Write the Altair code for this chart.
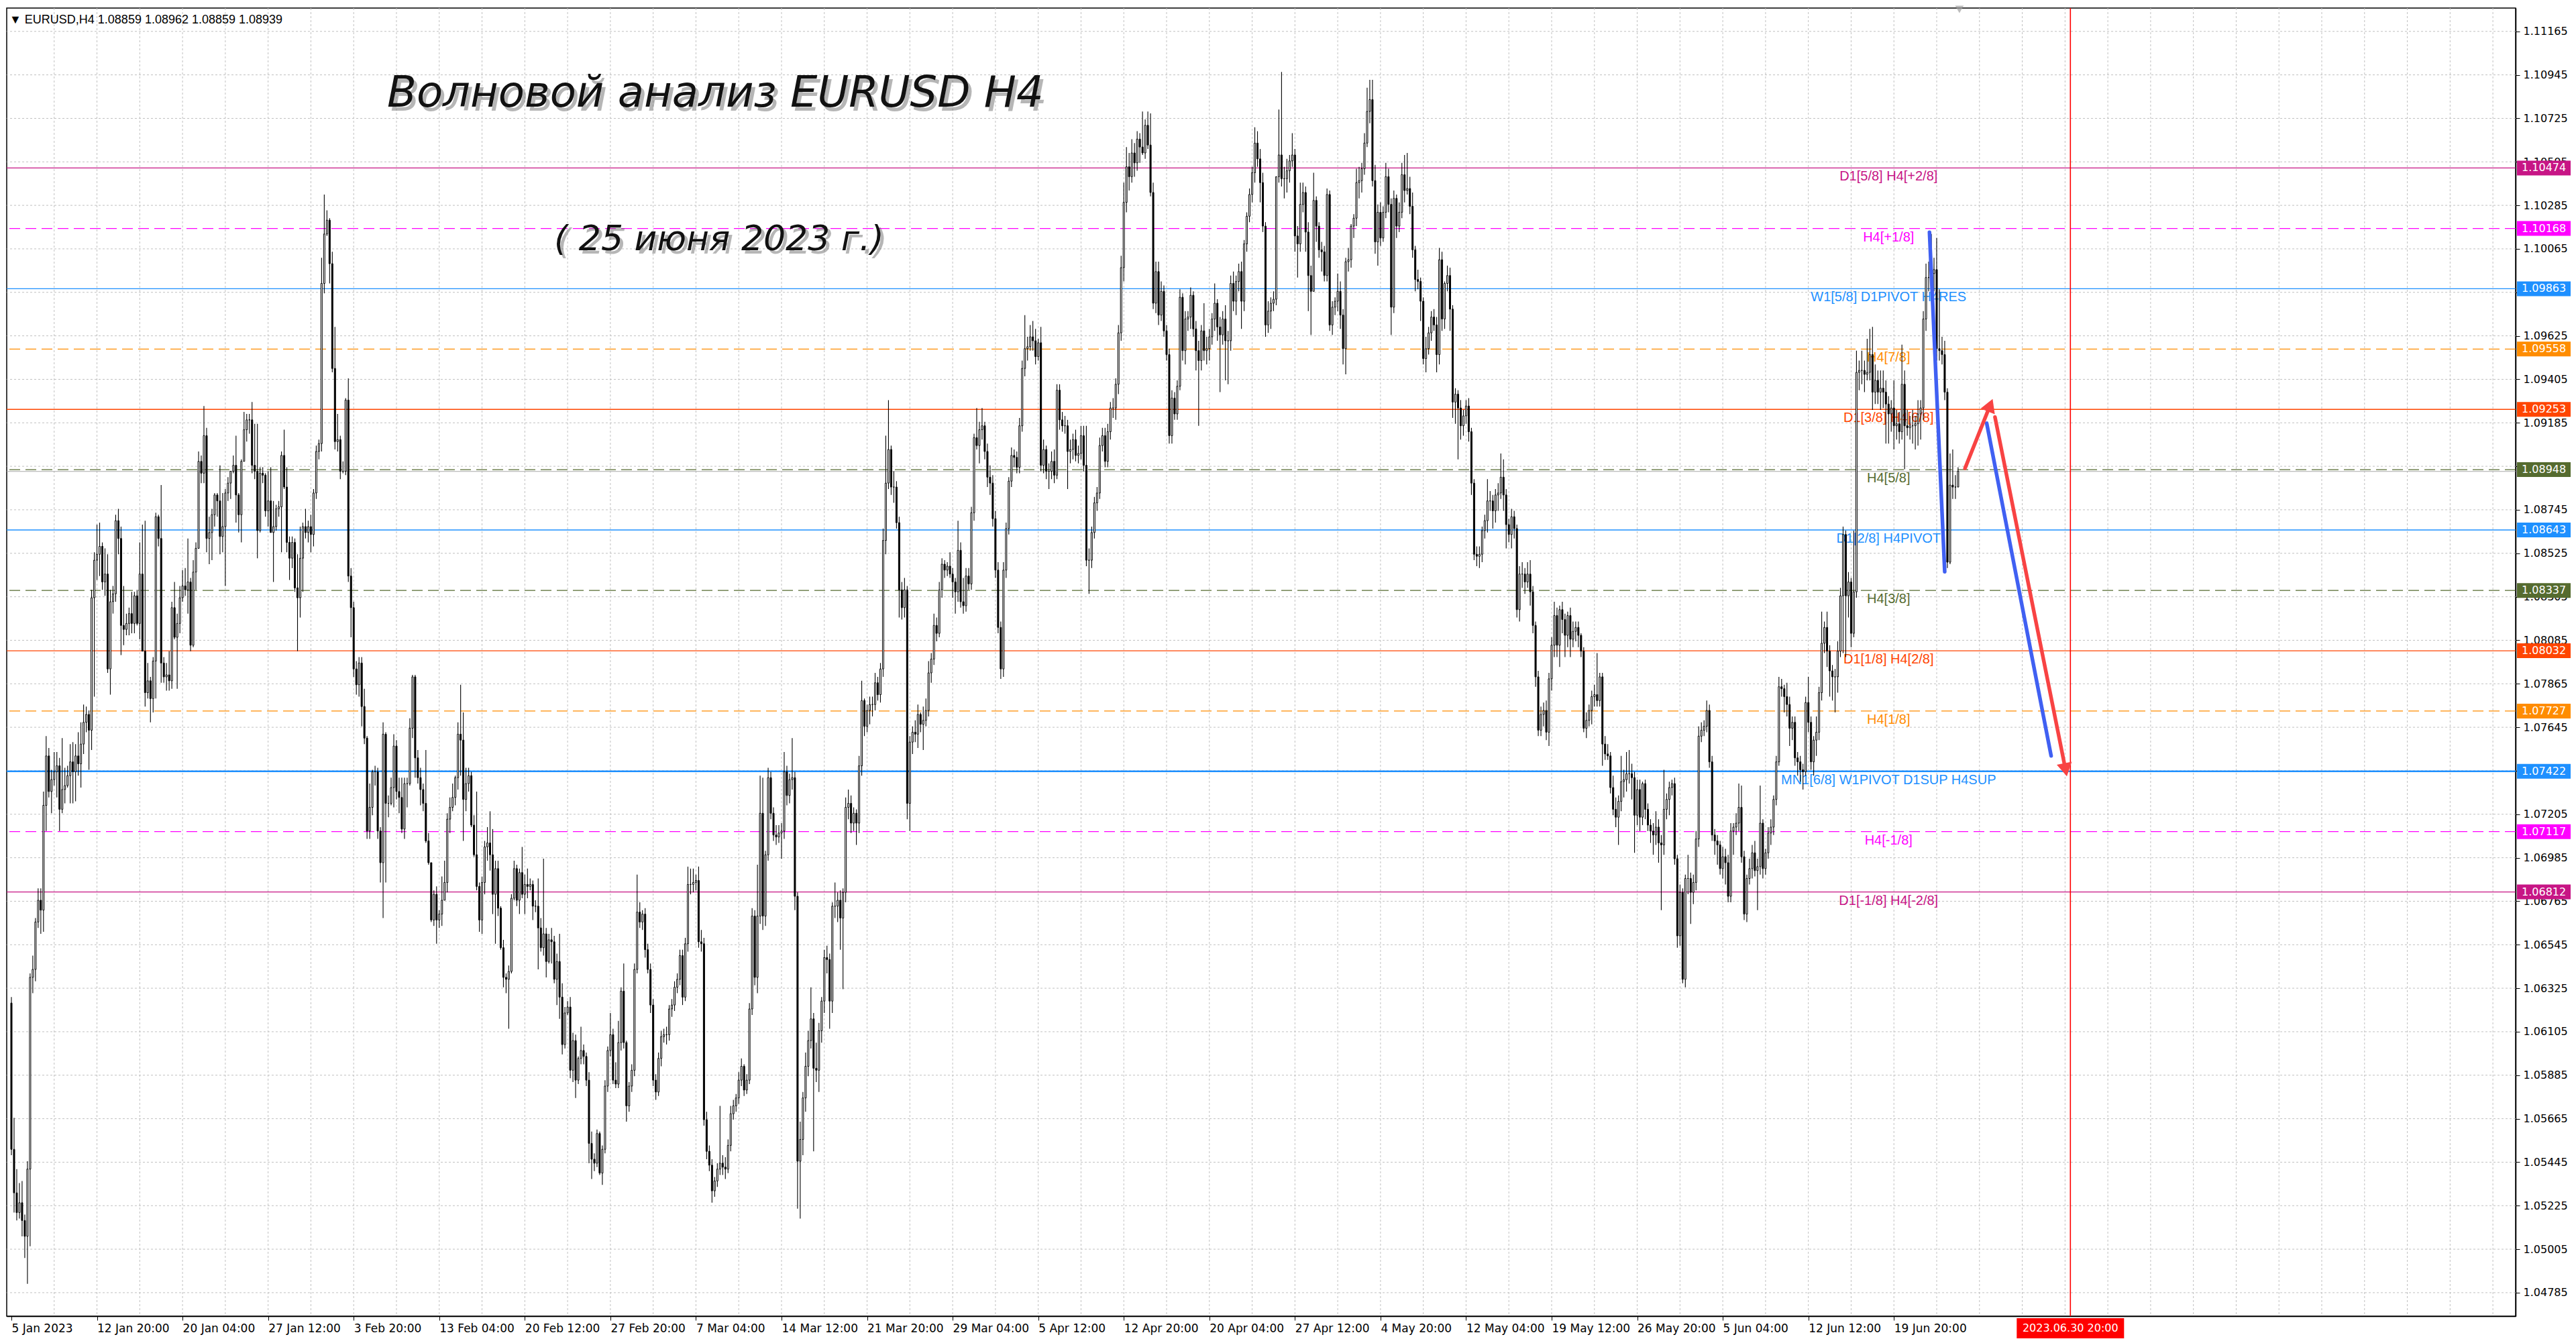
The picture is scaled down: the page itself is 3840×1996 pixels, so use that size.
import json
import math
import altair as alt
import pandas as pd

# ---------------- data (prices in pips above 1.0000; bar = (high, low, close); open = previous close)
FIRST_OPEN = 625
bars_jan = [
    (628, 548, 551), (567, 519, 529), (541, 515, 519), (534, 516, 524), (535, 507, 515), (518, 496, 507),
    (545, 483, 541), (640, 502, 638), (649, 630, 642), (668, 636, 666), (683, 663, 677), (683, 660, 672),
    (732, 661, 725), (760, 712, 750), (754, 729, 732), (743, 721, 738), (752, 735, 742), (752, 729, 745),
    (749, 712, 723), (759, 721, 733), (744, 726, 735), (745, 734, 740), (756, 726, 747), (757, 726, 742),
    (756, 727, 750), (762, 740, 746), (767, 734, 756), (776, 751, 767), (775, 762, 771), (773, 743, 763),
    (834, 753, 830), (853, 780, 849), (867, 839, 852), (868, 841, 856), (858, 834, 838), (855, 831, 842),
    (852, 792, 794), (834, 781, 828), (836, 822, 832), (872, 828, 869), (875, 852, 860), (866, 801, 816),
    (836, 806, 814), (822, 811, 817), (825, 811, 822), (833, 812, 817), (833, 812, 831), (834, 816, 817),
    (858, 809, 842), (867, 803, 803), (869, 775, 782), (797, 779, 788), (790, 767, 779), (800, 772, 798),
    (873, 779, 871), (872, 856, 860), (887, 787, 797), (800, 787, 790), (797, 783, 791), (803, 783, 788),
    (828, 784, 825), (838, 809, 810), (822, 784, 817), (836, 812, 830), (844, 828, 836), (845, 831, 834),
    (860, 822, 838), (840, 803, 806), (849, 805, 843), (858, 834, 855), (904, 860, 899), (902, 888, 893),
    (927, 888, 912), (916, 853, 860), (871, 847, 863), (875, 849, 872), (883, 866, 882), (883, 871, 879),
    (897, 852, 861), (883, 853, 866), (885, 836, 883), (891, 879, 888), (894, 880, 894), (902, 893, 897),
    (912, 868, 882), (883, 863, 872), (900, 858, 899), (924, 899, 915), (923, 909, 920), (923, 913, 920),
    (929, 893, 897), (918, 890, 894), (918, 850, 864), (896, 863, 893), (896, 888, 892), (893, 871, 874),
    (894, 866, 879), (896, 863, 863), (879, 838, 866), (877, 864, 875), (879, 871, 876), (904, 853, 902),
    (915, 885, 886), (896, 853, 858), (861, 839, 850), (861, 845, 858), (860, 833, 835), (852, 803, 830),
    (866, 820, 850), (868, 833, 866), (875, 860, 863),
]
bars_feb = [
    (869, 858, 866), (872, 853, 862), (885, 856, 883), (907, 880, 904), (910, 900, 908), (1002, 904, 989),
    (1034, 984, 1014), (1026, 1013, 1021), (1022, 989, 999), (1005, 944, 946), (967, 905, 909), (923, 904, 910),
    (912, 890, 894), (899, 893, 894), (931, 892, 930), (941, 838, 841), (845, 810, 825), (828, 790, 794),
    (798, 781, 786), (800, 780, 797), (800, 765, 775), (784, 756, 759), (760, 708, 712), (736, 708, 724),
    (743, 720, 742), (745, 735, 742), (744, 708, 712), (714, 686, 696), (767, 668, 761), (762, 686, 726),
    (730, 719, 726), (739, 725, 734), (761, 724, 755), (758, 728, 732), (739, 721, 729), (739, 711, 713),
    (739, 708, 736), (739, 724, 736), (769, 735, 764), (791, 759, 790), (791, 739, 749), (753, 736, 739),
    (744, 725, 733), (736, 722, 726), (753, 706, 707), (711, 695, 696), (696, 666, 667), (682, 664, 680),
    (684, 655, 667), (672, 663, 670), (689, 664, 677), (697, 677, 686), (721, 681, 718), (729, 711, 724),
    (736, 722, 729), (740, 725, 739), (767, 733, 761), (786, 740, 758), (772, 707, 728), (744, 722, 736),
    (744, 732, 740), (742, 714, 715), (720, 699, 700), (732, 682, 684), (686, 661, 667), (689, 660, 686),
    (707, 680, 704), (714, 697, 706), (722, 692, 700), (713, 670, 680), (697, 655, 693), (697, 669, 673),
    (674, 652, 653), (657, 633, 638), (640, 630, 637), (644, 612, 641), (680, 640, 678), (697, 677, 693),
    (695, 674, 677), (693, 670, 691), (704, 678, 680), (690, 670, 685), (693, 678, 684), (688, 682, 685),
    (687, 667, 674), (677, 671, 674), (688, 642, 663), (668, 651, 653), (698, 649, 660), (663, 638, 646),
    (660, 645, 657), (663, 645, 656), (659, 635, 637), (650, 624, 646), (660, 617, 628), (635, 599, 604),
    (623, 602, 620), (626, 619, 623), (628, 587, 591), (610, 585, 606), (609, 577, 586), (598, 584, 597),
    (613, 594, 601), (604, 594, 598), (600, 583, 586), (590, 544, 554), (560, 536, 546), (549, 540, 544),
    (561, 542, 559), (560, 538, 539), (553, 533, 551), (586, 549, 583), (603, 580, 601), (620, 598, 609),
    (612, 584, 586), (595, 582, 584), (616, 582, 605), (633, 601, 631), (645, 602, 605), (606, 565, 573),
]
bars_mar = [
    (585, 570, 583), (594, 580, 591), (645, 588, 642), (690, 640, 671), (676, 663, 666), (672, 662, 670),
    (673, 648, 652), (655, 640, 642), (645, 620, 624), (627, 583, 586), (589, 576, 580), (600, 578, 597),
    (611, 593, 608), (612, 605, 609), (613, 604, 609), (624, 606, 622), (627, 618, 624), (636, 621, 633),
    (640, 630, 637), (652, 634, 649), (652, 624, 628), (658, 626, 655), (694, 651, 685), (693, 680, 685),
    (693, 681, 686), (690, 682, 687), (694, 653, 656), (662, 651, 655), (658, 563, 566), (570, 546, 550),
    (553, 540, 543), (546, 524, 530), (537, 527, 535), (544, 532, 541), (573, 538, 544), (548, 538, 542),
    (547, 536, 541), (556, 539, 553), (573, 550, 569), (576, 566, 573), (579, 570, 577), (590, 574, 586),
    (597, 583, 593), (594, 578, 581), (589, 579, 586), (625, 584, 622), (673, 619, 669), (672, 634, 638),
    (695, 630, 669), (740, 665, 721), (739, 662, 669), (702, 664, 700), (744, 697, 739), (742, 718, 721),
    (724, 707, 710), (715, 705, 709), (715, 706, 711), (716, 698, 712), (752, 708, 742), (745, 725, 730),
    (741, 726, 738), (759, 733, 739), (742, 672, 679), (681, 521, 545), (565, 516, 556), (580, 548, 577),
    (600, 570, 593), (611, 588, 606), (633, 602, 617), (620, 550, 592), (605, 585, 591), (615, 580, 611),
    (628, 605, 626), (652, 620, 648), (654, 640, 647), (650, 612, 626), (676, 620, 674), (686, 668, 674),
    (681, 666, 677), (682, 652, 668), (683, 632, 681), (729, 676, 724), (733, 718, 726), (730, 711, 716),
    (724, 712, 721), (723, 705, 716), (750, 711, 745), (788, 740, 778), (779, 760, 765), (776, 762, 773),
    (780, 766, 776), (780, 770, 776), (792, 773, 787), (790, 778, 781), (797, 777, 794), (865, 790, 859),
    (912, 852, 888), (930, 885, 905), (907, 882, 886), (894, 878, 886), (889, 865, 868), (871, 820, 834),
    (838, 819, 825), (840, 820, 834), (836, 718, 726), (760, 712, 757), (765, 751, 762), (768, 757, 761),
    (776, 754, 771), (772, 762, 766), (775, 753, 768), (779, 765, 773), (798, 770, 792), (802, 787, 799),
    (822, 796, 816), (820, 808, 812), (838, 810, 834), (850, 830, 847), (849, 840, 844), (848, 841, 846),
    (853, 840, 842), (845, 830, 838), (840, 822, 833), (869, 828, 854), (858, 825, 828), (840, 822, 826),
    (845, 823, 841), (845, 834, 837), (876, 834, 873), (913, 869, 911), (926, 905, 907), (919, 898, 915),
    (926, 910, 917), (919, 900, 904), (908, 886, 891), (897, 882, 888), (892, 866, 870), (874, 840, 844),
]
bars_apr = [
    (848, 812, 815), (818, 789, 794), (848, 790, 844), (868, 840, 865), (891, 862, 889), (906, 886, 902),
    (905, 896, 901), (904, 893, 896), (921, 893, 917), (950, 914, 946), (973, 942, 956), (962, 950, 957),
    (968, 955, 962), (970, 955, 960), (966, 948, 952), (961, 950, 959), (967, 894, 897), (910, 893, 905),
    (907, 890, 894), (898, 885, 894), (904, 890, 899), (905, 888, 892), (938, 890, 935), (938, 915, 920),
    (924, 914, 917), (922, 913, 917), (920, 885, 904), (910, 898, 905), (913, 900, 910), (915, 899, 902),
    (907, 898, 903), (917, 900, 912), (917, 894, 897), (917, 846, 849), (855, 832, 849), (866, 845, 863),
    (881, 860, 878), (886, 874, 883), (911, 880, 907), (916, 904, 912), (916, 896, 899), (918, 896, 914),
    (929, 910, 926), (931, 921, 926), (941, 920, 938), (968, 933, 964), (1003, 960, 997), (1040, 990, 1030),
    (1058, 1025, 1048), (1055, 1036, 1043), (1062, 1040, 1055), (1060, 1043, 1050), (1066, 1046, 1062), (1065, 1050, 1058),
    (1076, 1054, 1055), (1072, 1052, 1069), (1076, 1057, 1059), (1075, 1033, 1035), (1040, 976, 979), (1000, 974, 995),
    (1000, 968, 973), (990, 970, 985), (988, 962, 965), (968, 950, 953), (956, 908, 912), (935, 908, 931),
    (934, 920, 923), (940, 920, 937), (986, 935, 982), (984, 950, 955), (975, 948, 971), (975, 965, 972),
    (987, 966, 983), (985, 962, 966), (970, 945, 955), (960, 917, 950), (968, 945, 965), (979, 950, 955),
    (962, 948, 956), (966, 950, 962), (974, 958, 971), (989, 965, 979), (981, 960, 967), (972, 934, 963),
    (975, 958, 971), (978, 940, 960), (965, 938, 960), (993, 955, 989), (995, 975, 980), (993, 973, 990),
    (999, 985, 995), (1000, 966, 980), (1011, 975, 1009), (1025, 1005, 1023), (1037, 1020, 1034), (1048, 1030, 1045),
    (1068, 1040, 1060), (1066, 1048, 1052), (1057, 1030, 1040), (1045, 1015, 1018), (1020, 962, 968), (980, 964, 975),
    (982, 966, 979), (985, 975, 981), (1043, 978, 1043), (1077, 1040, 1054), (1096, 1038, 1042), (1048, 1032, 1042),
    (1052, 1035, 1046), (1054, 1040, 1051), (1065, 1048, 1054), (1057, 1005, 1013), (1018, 992, 1009), (1040, 1005, 1029),
    (1040, 1025, 1035), (1038, 1005, 1015), (1020, 975, 993), (998, 963, 985), (1045, 985, 1031), (1033, 1010, 1018),
]
bars_may = [
    (1020, 1002, 1006), (1010, 995, 1005), (1008, 990, 993), (1037, 990, 1034), (1036, 965, 968), (980, 963, 977),
    (982, 973, 980), (994, 975, 985), (990, 966, 973), (976, 948, 956), (1002, 943, 1000), (1007, 995, 1001),
    (1019, 997, 1018), (1024, 1012, 1022), (1047, 1018, 1040), (1048, 1032, 1041), (1050, 1035, 1047), (1065, 1044, 1060),
    (1088, 1058, 1076), (1092, 1070, 1082), (1092, 1038, 1041), (1049, 1004, 1010), (1029, 998, 1025), (1030, 1008, 1012),
    (1028, 1010, 1025), (1050, 1022, 1043), (1047, 1025, 1029), (1032, 963, 977), (1036, 974, 1032), (1034, 1012, 1018),
    (1030, 1015, 1025), (1050, 1022, 1044), (1054, 1030, 1036), (1055, 1034, 1037), (1043, 1024, 1028), (1035, 1002, 1006),
    (1008, 985, 991), (996, 986, 990), (992, 970, 980), (982, 948, 951), (962, 944, 956), (967, 953, 964),
    (975, 960, 972), (976, 965, 968), (972, 944, 953), (1007, 948, 1001), (1005, 965, 971), (990, 966, 989),
    (998, 985, 993), (997, 965, 976), (978, 921, 929), (936, 918, 933), (935, 900, 926), (930, 910, 917),
    (925, 912, 922), (930, 918, 927), (931, 909, 914), (916, 882, 888), (890, 849, 852), (856, 846, 851),
    (856, 845, 852), (866, 848, 864), (872, 860, 869), (890, 863, 879), (884, 874, 879), (882, 865, 874),
    (885, 868, 882), (888, 874, 883), (903, 880, 891), (900, 874, 882), (885, 855, 867), (870, 858, 862),
    (875, 855, 871), (874, 860, 865), (867, 820, 824), (846, 818, 842), (848, 835, 842), (845, 832, 838),
    (848, 835, 842), (849, 826, 833), (836, 812, 816), (818, 785, 790), (793, 760, 763), (775, 760, 771),
    (777, 765, 773), (778, 758, 762), (792, 755, 789), (810, 783, 806), (828, 800, 821), (825, 800, 806),
    (826, 795, 824), (828, 812, 819), (822, 800, 811), (823, 805, 821), (825, 800, 809), (818, 805, 813),
    (818, 808, 815), (818, 805, 811), (812, 800, 803), (805, 762, 764), (772, 759, 768), (776, 765, 773),
    (783, 766, 780), (786, 775, 781), (802, 775, 778), (792, 775, 790), (792, 745, 756), (760, 748, 751),
    (756, 748, 750), (752, 731, 734), (740, 720, 723), (729, 714, 719), (730, 705, 727), (750, 722, 737),
    (743, 729, 738), (752, 732, 741), (753, 736, 741), (746, 728, 739), (742, 701, 720), (738, 715, 733),
    (738, 712, 719), (737, 715, 736), (738, 718, 723), (726, 712, 715), (718, 706, 712), (716, 700, 710),
    (722, 705, 714), (718, 696, 706), (710, 672, 705), (743, 700, 723), (731, 718, 728), (737, 720, 734),
    (738, 730, 736), (739, 695, 698), (700, 653, 659), (685, 654, 681), (683, 635, 637), (690, 633, 688),
]
bars_jun = [
    (700, 680, 688), (691, 665, 681), (690, 675, 686), (712, 682, 708), (765, 704, 760), (767, 757, 763),
    (768, 760, 765), (778, 762, 773), (776, 744, 747), (750, 707, 710), (713, 700, 707), (710, 695, 705),
    (707, 690, 693), (704, 688, 699), (703, 685, 696), (700, 676, 679), (716, 676, 712), (716, 700, 714),
    (721, 710, 716), (736, 712, 724), (735, 696, 699), (702, 667, 670), (690, 666, 688), (698, 685, 693),
    (705, 688, 701), (707, 689, 692), (698, 672, 694), (735, 690, 716), (718, 688, 693), (703, 690, 701),
    (714, 698, 711), (718, 705, 714), (730, 710, 728), (750, 725, 747), (790, 745, 785), (789, 780, 784),
    (786, 772, 780), (787, 770, 776), (780, 755, 764), (770, 758, 767), (770, 745, 749), (752, 740, 747),
    (750, 737, 743), (746, 733, 742), (780, 740, 777), (790, 762, 767), (770, 743, 747), (760, 740, 758),
    (770, 750, 762), (785, 758, 782), (823, 778, 807), (818, 802, 815), (823, 795, 803), (806, 780, 793),
    (796, 778, 790), (794, 772, 790), (808, 782, 803), (835, 800, 831), (866, 802, 862), (864, 800, 831),
    (843, 820, 838), (840, 805, 812), (864, 810, 833), (955, 830, 944), (950, 935, 945), (955, 938, 945),
    (950, 934, 943), (961, 940, 944), (966, 940, 953), (967, 925, 934), (948, 928, 940), (945, 928, 934),
    (945, 925, 936), (945, 926, 934), (940, 908, 928), (932, 908, 923), (930, 914, 926), (940, 905, 917),
    (925, 910, 918), (924, 908, 914), (958, 910, 938), (945, 895, 917), (925, 912, 916), (922, 910, 917),
    (925, 908, 917), (922, 905, 918), (930, 907, 923), (930, 910, 926), (975, 920, 971), (999, 965, 992),
    (1000, 985, 992), (1014, 990, 994), (1002, 985, 996), (1012, 950, 956), (986, 950, 955), (962, 948, 953),
    (960, 930, 934), (936, 845, 848), (903, 847, 887), (905, 880, 886), (892, 880, 886), (896, 886, 894),
]

x_labels = ["5 Jan 2023", "12 Jan 20:00", "20 Jan 04:00", "27 Jan 12:00", "3 Feb 20:00", "13 Feb 04:00",
            "20 Feb 12:00", "27 Feb 20:00", "7 Mar 04:00", "14 Mar 12:00", "21 Mar 20:00", "29 Mar 04:00",
            "5 Apr 12:00", "12 Apr 20:00", "20 Apr 04:00", "27 Apr 12:00", "4 May 20:00", "12 May 04:00",
            "19 May 12:00", "26 May 20:00", "5 Jun 04:00", "12 Jun 12:00", "19 Jun 20:00"]
y_ticks = [1.11165, 1.10945, 1.10725, 1.10505, 1.10285, 1.10065, 1.09845, 1.09625, 1.09405, 1.09185,
           1.08965, 1.08745, 1.08525, 1.08305, 1.08085, 1.07865, 1.07645, 1.07425, 1.07205, 1.06985,
           1.06765, 1.06545, 1.06325, 1.06105, 1.05885, 1.05665, 1.05445, 1.05225, 1.05005, 1.04785]

level_prices = [1.10474, 1.10168, 1.09863, 1.09558, 1.09253, 1.08948, 1.08643,
                1.08337, 1.08032, 1.07727, 1.07422, 1.07117, 1.06812]
level_names = ["D1[5/8] H4[+2/8]", "H4[+1/8]", "W1[5/8] D1PIVOT H4RES", "H4[7/8]", "D1[3/8] H4[6/8]",
               "H4[5/8]", "D1[2/8] H4PIVOT", "H4[3/8]", "D1[1/8] H4[2/8]", "H4[1/8]",
               "MN1[6/8] W1PIVOT D1SUP H4SUP", "H4[-1/8]", "D1[-1/8] H4[-2/8]"]
level_colors = ["#C71585", "#FF00FF", "#1E90FF", "#FF8C00", "#FF4500", "#556B2F", "#1E90FF",
                "#556B2F", "#FF4500", "#FF8C00", "#1E90FF", "#FF00FF", "#C71585"]
level_style = ["solid", "dash", "solid", "dash", "solid", "dash", "solid",
               "dash", "solid", "dash", "thick", "dash", "solid"]
level_label_bar = 702

bid_price = 1.08939
future_bar = 770
future_label = "2023.06.30 20:00"

blue_bar = [717.3, 723.0, 738.7, 762.8]
blue_price = [1.10149, 1.08432, 1.09183, 1.07500]
blue_seg = ["a", "a", "b", "b"]
red_bar = [730.6, 740.0, 741.8, 768.2]
red_price = [1.08955, 1.09274, 1.09214, 1.07430]
red_seg = ["a", "a", "b", "b"]

header_text = "▼ EURUSD,H4  1.08859 1.08962 1.08859 1.08939"
title_text = "Волновой анализ EURUSD H4"
subtitle_text = "( 25 июня 2023 г.)"

# ---------------- build tables
W, H = 3740, 1950
XD = [-0.5, 935.25]
YD = [1.04666, 1.11283]
FONT = "Liberation Sans"
AFONT = "DejaVu Sans"

rows = []
prev = FIRST_OPEN
for i, (h, l, c) in enumerate(bars_jan + bars_feb + bars_mar + bars_apr + bars_may + bars_jun):
    o = prev
    rows.append({"i": i, "o": 1 + o / 1e4, "c": 1 + c / 1e4,
                 "h": 1 + max(h, o, c) / 1e4, "l": 1 + min(l, o, c) / 1e4,
                 "bull": c >= o})
    prev = c
bars = pd.DataFrame(rows)
bull = bars[bars["bull"]].drop(columns=["bull"])
bear = bars[~bars["bull"]].drop(columns=["bull"])
bars = bars.drop(columns=["bull"])

levels = pd.DataFrame({"p": level_prices, "name": level_names, "col": level_colors,
                       "st": level_style, "lx": [level_label_bar] * len(level_prices)})
lv_solid = levels[levels["st"] == "solid"]
lv_thick = levels[levels["st"] == "thick"]
lv_dash = levels[levels["st"] == "dash"]
vgrid = pd.DataFrame({"i": list(range(16, 936, 16))})
hgrid = pd.DataFrame({"p": y_ticks})

x_expr = json.dumps(x_labels) + "[round(datum.value / 32)]"

X_AXIS = dict(values=list(range(0, 32 * len(x_labels), 32)), labelExpr=x_expr, grid=False,
              title=None, domainColor="black", domainWidth=1.5, tickColor="black", tickSize=6,
              labelAlign="left", labelBaseline="top", labelPadding=4,
              labelFont=AFONT, labelFontSize=17, labelColor="black", labelOverlap=False,
              labelFlush=False)
Y_AXIS = dict(values=y_ticks, format=".5f", orient="right", grid=False, title=None,
              domainColor="black", domainWidth=1.5, tickColor="black", tickSize=6,
              labelPadding=5, labelFont=AFONT, labelFontSize=16, labelColor="black",
              labelOverlap=False, labelFlush=False)


def X(field):
    return alt.X(field, type="quantitative", scale=alt.Scale(domain=XD, nice=False, zero=False),
                 axis=alt.Axis(**X_AXIS))


def Y(field):
    return alt.Y(field, type="quantitative", scale=alt.Scale(domain=YD, nice=False, zero=False),
                 axis=alt.Axis(**Y_AXIS))


vg = alt.Chart(vgrid).mark_rule(color="#C0C0C0", strokeDash=[3, 3], strokeWidth=1).encode(x=X("i"))
hg = alt.Chart(hgrid).mark_rule(color="#C0C0C0", strokeDash=[3, 3], strokeWidth=1).encode(y=Y("p"))

l_solid = alt.Chart(lv_solid).mark_rule(strokeWidth=1.3).encode(
    y=Y("p"), color=alt.Color("col:N", scale=None))
l_thick = alt.Chart(lv_thick).mark_rule(strokeWidth=2.6).encode(
    y=Y("p"), color=alt.Color("col:N", scale=None))
l_dash = alt.Chart(lv_dash).mark_rule(strokeDash=[16, 8], strokeWidth=1.3).encode(
    y=Y("p"), color=alt.Color("col:N", scale=None))
bid = alt.Chart(pd.DataFrame({"p": [bid_price]})).mark_rule(color="#A8A8A8", strokeWidth=1).encode(y=Y("p"))
l_text = alt.Chart(levels).mark_text(align="center", baseline="top", dy=3, font=FONT, fontSize=20).encode(
    x=X("lx"), y=Y("p"), text="name:N", color=alt.Color("col:N", scale=None))

future_line = alt.Chart(pd.DataFrame({"i": [future_bar]})).mark_rule(color="#FF0000", strokeWidth=1.6).encode(
    x=X("i"))

wicks = alt.Chart(bars).mark_rule(color="black", strokeWidth=1.1).encode(
    x=X("i"), y=Y("l"), y2="h")
bull_bodies = alt.Chart(bull).mark_bar(size=2, stroke="black", strokeWidth=1, fill="white").encode(
    x=X("i"), y=Y("o"), y2="c")
bear_bodies = alt.Chart(bear).mark_bar(size=2, stroke="black", strokeWidth=1, fill="black").encode(
    x=X("i"), y=Y("c"), y2="o")

blue_df = pd.DataFrame({"i": blue_bar, "p": blue_price, "seg": blue_seg})
red_df = pd.DataFrame({"i": red_bar, "p": red_price, "seg": red_seg})
blue_lines = alt.Chart(blue_df).mark_line(color="#4060F2", strokeWidth=5.5, strokeCap="round").encode(
    x=X("i"), y=Y("p"), detail="seg:N")
red_lines = alt.Chart(red_df).mark_line(color="#F84343", strokeWidth=5.5, strokeCap="round").encode(
    x=X("i"), y=Y("p"), detail="seg:N")

sx = W / (XD[1] - XD[0])
sy = H / (YD[1] - YD[0])
heads = []
for a in (0, 2):
    dx = (red_bar[a + 1] - red_bar[a]) * sx
    dy = -(red_price[a + 1] - red_price[a]) * sy
    ang = math.degrees(math.atan2(dx, -dy)) % 360
    heads.append({"i": red_bar[a + 1], "p": red_price[a + 1], "ang": ang})
red_heads = alt.Chart(pd.DataFrame(heads)).mark_point(shape="triangle-up", filled=True, size=520,
                                                     color="#F84343", opacity=1).encode(
    x=X("i"), y=Y("p"), angle=alt.Angle("ang:Q", scale=None))

box_rect = alt.Chart(levels).mark_rect(yOffset=-11, y2Offset=11).encode(
    x=alt.value(W + 2), x2=alt.value(W + 82),
    y=Y("p"), y2="p", fill=alt.Fill("col:N", scale=None))
box_text = alt.Chart(levels).mark_text(align="left", baseline="middle", font=AFONT, fontSize=16,
                                       color="white").encode(
    x=alt.value(W + 9), y=Y("p"), text=alt.Text("p:Q", format=".5f"))

date_df = pd.DataFrame({"i": [future_bar], "t": [future_label]})
date_rect = alt.Chart(date_df).mark_rect(color="#FF0000", xOffset=-80, x2Offset=80).encode(
    x=X("i"), x2="i", y=alt.value(H + 3), y2=alt.value(H + 33))
date_text = alt.Chart(date_df).mark_text(color="white", font=AFONT, fontSize=16, baseline="middle").encode(
    x=X("i"), y=alt.value(H + 18), text="t:N")

txt = pd.DataFrame({"t": [title_text], "s": [subtitle_text], "h": [header_text]})
title_shadow = alt.Chart(txt).mark_text(align="left", baseline="middle", font="DejaVu Sans", fontSize=64,
                                        fontStyle="italic", color="#606060", opacity=0.45).encode(
    x=alt.value(572), y=alt.value(134), text="t:N")
title = alt.Chart(txt).mark_text(align="left", baseline="middle", font="DejaVu Sans", fontSize=64,
                                 fontStyle="italic", color="#111111").encode(
    x=alt.value(567), y=alt.value(128), text="t:N")
sub_shadow = alt.Chart(txt).mark_text(align="left", baseline="middle", font="DejaVu Sans", fontSize=52,
                                      fontStyle="italic", color="#606060", opacity=0.45).encode(
    x=alt.value(821), y=alt.value(350), text="s:N")
sub = alt.Chart(txt).mark_text(align="left", baseline="middle", font="DejaVu Sans", fontSize=52,
                               fontStyle="italic", color="#111111").encode(
    x=alt.value(816), y=alt.value(345), text="s:N")
header = alt.Chart(txt).mark_text(align="left", baseline="middle", font=FONT, fontSize=18,
                                  color="black").encode(
    x=alt.value(4), y=alt.value(18), text="h:N")
shift = alt.Chart(pd.DataFrame({"i": [728.5]})).mark_point(shape="triangle-down", filled=True, size=160,
                                                          color="#A0A0A0").encode(
    x=X("i"), y=alt.value(2))

chart = alt.layer(
    vg, hg, l_solid, l_thick, l_dash, bid, l_text, future_line, wicks, bull_bodies, bear_bodies,
    blue_lines, red_lines, red_heads, box_rect, box_text, date_rect, date_text,
    title_shadow, title, sub_shadow, sub, header, shift
).properties(width=W, height=H, padding=0, background="white").configure_view(
    stroke="black", strokeWidth=1.5)

chart.save("out.html", embed_options={"renderer": "svg", "actions": False})
